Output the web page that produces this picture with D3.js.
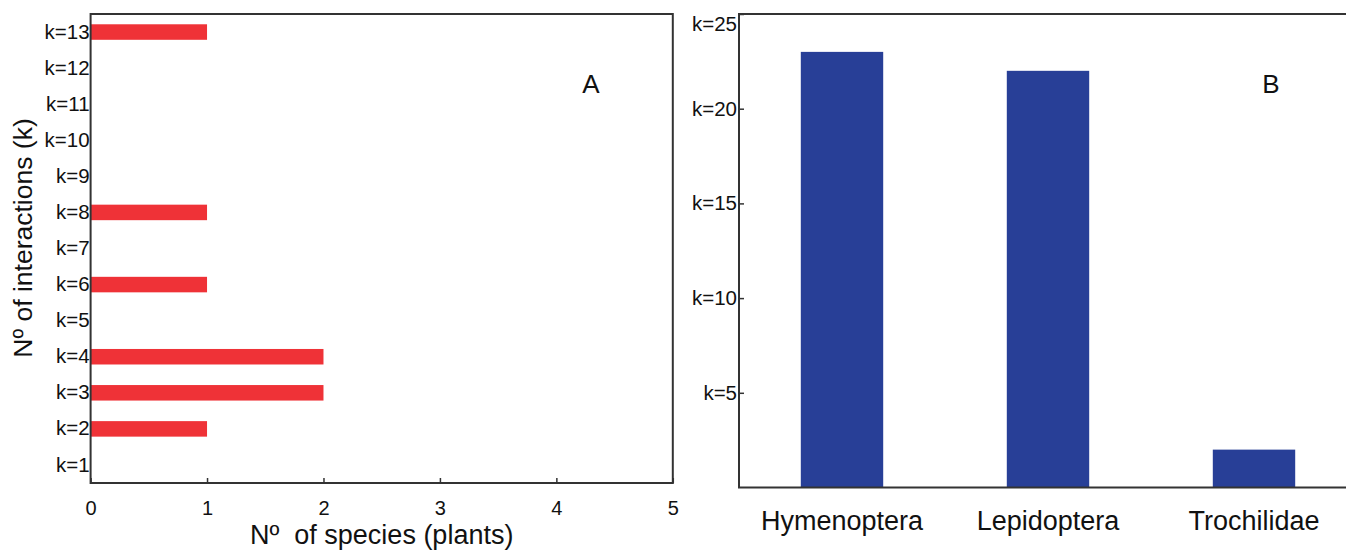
<!DOCTYPE html>
<html>
<head>
<meta charset="utf-8">
<script src="https://cdn.jsdelivr.net/npm/d3@7"></script>
<style>
  html, body { margin: 0; padding: 0; background: #fff; }
  svg { display: block; font-family: "Liberation Sans", Arial, sans-serif; }
  .domain { display: none; }
</style>
</head>
<body>
<svg id="chart" width="1346" height="550"></svg>
<script>
// panel A: number of plant species per interaction class
const kClasses = ['k=1', 'k=2', 'k=3', 'k=4', 'k=5', 'k=6', 'k=7', 'k=8', 'k=9', 'k=10', 'k=11', 'k=12', 'k=13'];
const plantSpecies = [0, 1, 2, 2, 0, 1, 0, 1, 0, 0, 0, 0, 1];
const speciesTicks = [0, 1, 2, 3, 4, 5];

// panel B: interactions per pollinator group
const groups = ['Hymenoptera', 'Lepidoptera', 'Trochilidae'];
const groupInteractions = [23, 22, 2];
const interactionTicks = [5, 10, 15, 20, 25];

const svg = d3.select('#chart');
const red = '#ef3237';
const blue = '#283f97';
const lineColor = '#333';

// ---- panel A ----
const A = { left: 90.6, right: 672.8, top: 14, bottom: 483 };

const xA = d3.scaleLinear().domain([0, 5]).range([A.left, A.right]);
const yA = d3.scaleBand().domain(kClasses.slice().reverse())
  .range([A.top, A.bottom]).paddingInner(0.57).paddingOuter(0.285);

const gA = svg.append('g');

gA.selectAll('.barA').data(kClasses.map((k, i) => ({ k: k, v: plantSpecies[i] })).filter(d => d.v > 0))
  .enter().append('rect')
  .attr('class', 'barA')
  .attr('x', xA(0))
  .attr('y', d => yA(d.k))
  .attr('width', d => xA(d.v) - xA(0))
  .attr('height', yA.bandwidth())
  .attr('fill', red);

gA.append('rect')
  .attr('x', A.left).attr('y', A.top)
  .attr('width', A.right - A.left).attr('height', A.bottom - A.top)
  .attr('fill', 'none').attr('stroke', lineColor).attr('stroke-width', 2);

const axA = gA.append('g').attr('transform', `translate(0,${A.bottom})`)
  .call(d3.axisBottom(xA).tickValues(speciesTicks).tickFormat(d3.format('d')).tickSizeInner(-5).tickSizeOuter(0).tickPadding(18));
axA.selectAll('line').attr('stroke', lineColor).attr('stroke-width', 1.5);
axA.selectAll('text').attr('font-size', 20).attr('fill', '#111').attr('font-family', null);

const ayA = gA.append('g').attr('transform', `translate(${A.left},0)`)
  .call(d3.axisLeft(yA).tickSize(0).tickPadding(1));
ayA.selectAll('text').attr('font-size', 20.5).attr('fill', '#111').attr('font-family', null);

gA.append('text')
  .attr('x', (A.left + A.right) / 2).attr('y', 544)
  .attr('text-anchor', 'middle').attr('font-size', 27).attr('fill', '#111')
  .style('white-space', 'pre')
  .text('Nº  of species (plants)');

gA.append('text')
  .attr('transform', 'translate(32,238) rotate(-90)')
  .attr('text-anchor', 'middle').attr('font-size', 26.5).attr('fill', '#111')
  .text('Nº of interactions (k)');

gA.append('text')
  .attr('x', 591).attr('y', 93)
  .attr('text-anchor', 'middle').attr('font-size', 26).attr('fill', '#111')
  .text('A');

// ---- panel B ----
const B = { left: 739, right: 1357, top: 14, bottom: 487.5 };

const xB = d3.scaleBand().domain(groups).range([B.left, B.right]).paddingInner(0.6).paddingOuter(0.3);
const yB = d3.scaleLinear().domain([0, 25]).range([B.bottom, 14]);

const gB = svg.append('g');

gB.selectAll('.barB').data(groups.map((g, i) => ({ g: g, v: groupInteractions[i] })))
  .enter().append('rect')
  .attr('class', 'barB')
  .attr('x', d => xB(d.g))
  .attr('y', d => yB(d.v))
  .attr('width', xB.bandwidth())
  .attr('height', d => yB(0) - yB(d.v))
  .attr('fill', blue);

gB.append('path')
  .attr('d', `M${B.right},${B.top}H${B.left}V${B.bottom}H${B.right}`)
  .attr('fill', 'none').attr('stroke', lineColor).attr('stroke-width', 2);

const ayB = gB.append('g').attr('transform', `translate(${B.left},0)`)
  .call(d3.axisLeft(yB).tickValues(interactionTicks).tickFormat(d => 'k=' + d).tickSizeInner(-5).tickSizeOuter(0).tickPadding(2));
ayB.selectAll('line').attr('stroke', lineColor).attr('stroke-width', 1.5);
ayB.selectAll('text').attr('font-size', 20.5).attr('fill', '#111').attr('font-family', null);
ayB.selectAll('.tick').filter(d => d === 25).select('text').attr('dy', '0.8em');

const axB = gB.append('g').attr('transform', `translate(0,${B.bottom})`)
  .call(d3.axisBottom(xB).tickSize(0).tickPadding(23));
axB.selectAll('text').attr('font-size', 27).attr('fill', '#111').attr('font-family', null);

gB.append('text')
  .attr('x', 1271).attr('y', 93)
  .attr('text-anchor', 'middle').attr('font-size', 26).attr('fill', '#111')
  .text('B');
</script>
</body>
</html>
